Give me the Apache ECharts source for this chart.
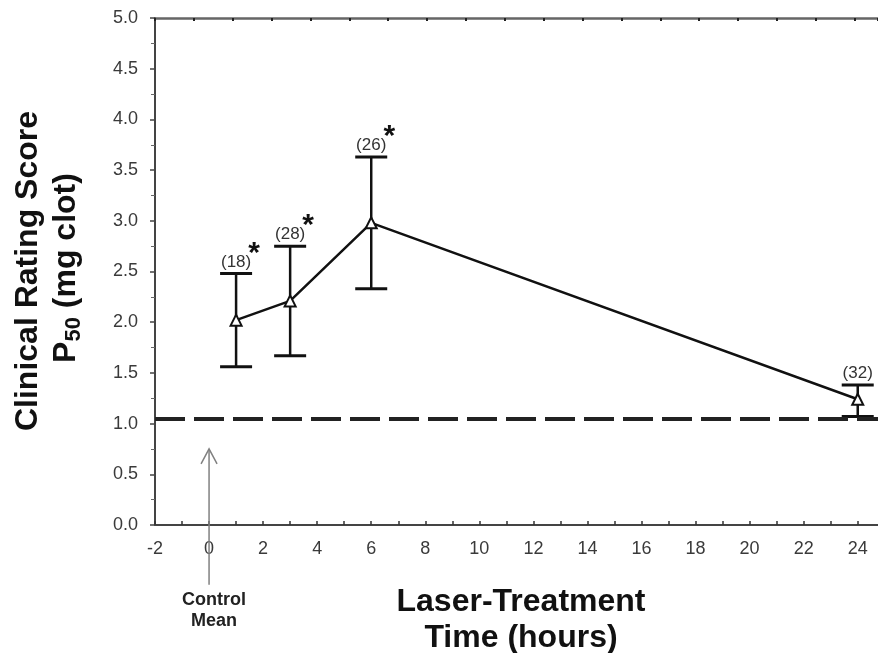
<!DOCTYPE html>
<html>
<head>
<meta charset="utf-8">
<script src="https://cdn.jsdelivr.net/npm/echarts@6/dist/echarts.min.js"></script>
<style>
  html, body { margin: 0; padding: 0; background: #fff; }
  #chart { width: 878px; height: 653px; }
</style>
</head>
<body>
<div id="chart"></div>
<script>
// values
const hours = [1, 3, 6, 24];
const means = [2.02, 2.21, 2.98, 1.24];
const upper = [2.48, 2.75, 3.63, 1.38];
const lower = [1.56, 1.67, 2.33, 1.07];
const counts = ["(18)", "(28)", "(26)", "(32)"];
const marked = [true, true, true, false];
const controlMean = 1.05;
// arrow under the control mean: x, tip, tail (tail runs below the axis)
const controlArrow = [0, 0.75, -0.59];
const xMin = -2, xMax = 24.75;
const yMin = 0, yMax = 5;

const FONT = "'Liberation Sans', Arial, Helvetica, sans-serif";
const ink = "#111";

const el = document.getElementById("chart");
const chart = echarts.init(el, null, { renderer: "canvas" });

// text width helper for the subscripted axis title
const ctx = document.createElement("canvas").getContext("2d");
function textW(str, font) {
  ctx.font = font;
  return ctx.measureText(str).width;
}

function yTitleLine2() {
  const big = "bold 32px " + FONT;
  const small = "bold 22px " + FONT;
  const parts = [
    { t: "P", font: big, dy: 0 },
    { t: "50", font: small, dy: 8 },
    { t: " (mg clot)", font: big, dy: 0 }
  ];
  const total = parts.reduce((s, p) => s + textW(p.t, p.font), 0);
  let cx = -total / 2;
  const children = parts.map(p => {
    const node = {
      type: "text",
      x: cx,
      y: p.dy,
      style: { text: p.t, font: p.font, fill: ink, textAlign: "left", textVerticalAlign: "middle" }
    };
    cx += textW(p.t, p.font);
    return node;
  });
  return { type: "group", id: "ytitle2", x: 66, y: 268, rotation: Math.PI / 2, children };
}

const option = {
  backgroundColor: "#fff",
  animation: false,
  grid: { left: 155, right: 0, top: 18, bottom: 128, containLabel: false },
  xAxis: [
    {
      type: "value",
      min: xMin,
      max: xMax,
      interval: 1,
      axisLine: { lineStyle: { color: "#444", width: 2 } },
      axisTick: { inside: true, length: 4, lineStyle: { color: "#333", width: 1.5 } },
      axisLabel: {
        margin: 15,
        fontSize: 18,
        fontFamily: FONT,
        color: "#3a3a3a",
        showMaxLabel: false,
        formatter: v => (Number.isInteger(v) && v % 2 === 0 ? String(v) : "")
      },
      splitLine: { show: false }
    },
    {
      type: "value",
      position: "top",
      min: 0,
      max: 18.6,
      interval: 1,
      axisLine: { onZero: false, lineStyle: { color: "#666", width: 2.5 } },
      axisTick: { inside: true, length: 3, lineStyle: { color: "#222", width: 2 } },
      axisLabel: { show: false },
      splitLine: { show: false }
    }
  ],
  yAxis: {
    type: "value",
    min: yMin,
    max: yMax,
    interval: 0.5,
    axisLine: { show: true, onZero: false, lineStyle: { color: "#444", width: 2 } },
    axisTick: { show: true, length: 5, lineStyle: { color: "#444", width: 1.5 } },
    minorTick: { show: true, splitNumber: 2, length: 4, lineStyle: { color: "#666", width: 1 } },
    axisLabel: {
      margin: 17,
      fontSize: 18,
      fontFamily: FONT,
      color: "#3a3a3a",
      formatter: v => v.toFixed(1)
    },
    splitLine: { show: false }
  },
  series: [
    {
      type: "custom",
      z: 2,
      data: hours.map((h, i) => [h, lower[i], upper[i], i]),
      encode: { x: 0, y: [1, 2] },
      renderItem(params, api) {
        const i = api.value(3);
        const x = api.value(0);
        const top = api.coord([x, api.value(2)]);
        const bot = api.coord([x, api.value(1)]);
        const half = 16;
        const style = { stroke: ink, lineWidth: 2.5 };
        const capStyle = { stroke: ink, lineWidth: 3 };
        const children = [
          { type: "line", shape: { x1: top[0], y1: top[1], x2: bot[0], y2: bot[1] }, style },
          { type: "line", shape: { x1: top[0] - half, y1: top[1], x2: top[0] + half, y2: top[1] }, style: capStyle },
          { type: "line", shape: { x1: bot[0] - half, y1: bot[1], x2: bot[0] + half, y2: bot[1] }, style: capStyle },
          {
            type: "text",
            x: top[0],
            y: top[1] - 3,
            style: { text: counts[i], font: "17px " + FONT, fill: "#333", textAlign: "center", textVerticalAlign: "bottom" }
          }
        ];
        if (marked[i]) {
          children.push({
            type: "text",
            x: top[0] + 18,
            y: top[1] - 20,
            style: { text: "*", font: "bold 30px " + FONT, fill: ink, textAlign: "center", textVerticalAlign: "middle" }
          });
        }
        return { type: "group", children };
      }
    },
    {
      type: "line",
      z: 3,
      data: hours.map((h, i) => [h, means[i]]),
      symbol: "triangle",
      symbolSize: 11,
      itemStyle: { color: "#fff", borderColor: ink, borderWidth: 2 },
      lineStyle: { color: ink, width: 2.5 },
      markLine: {
        silent: true,
        symbol: "none",
        label: { show: false },
        lineStyle: { color: "#222", width: 4, type: [30, 9] },
        data: [{ yAxis: controlMean }]
      }
    },
    {
      type: "custom",
      z: 10,
      clip: false,
      silent: true,
      data: [controlArrow],
      encode: { x: 0, y: [1, 2] },
      renderItem(params, api) {
        const tip = api.coord([api.value(0), api.value(1)]);
        const tail = api.coord([api.value(0), api.value(2)]);
        const st = { stroke: "#808080", lineWidth: 1.5, fill: null };
        return {
          type: "group",
          children: [
            { type: "line", shape: { x1: tip[0], y1: tip[1], x2: tail[0], y2: tail[1] }, style: st },
            {
              type: "polyline",
              shape: { points: [[tip[0] - 8, tip[1] + 15], [tip[0], tip[1]], [tip[0] + 8, tip[1] + 15]] },
              style: st
            }
          ]
        };
      }
    }
  ],
  graphic: [
    {
      type: "text",
      id: "ytitle1",
      x: 28,
      y: 271,
      rotation: Math.PI / 2,
      style: { text: "Clinical Rating Score", font: "bold 32px " + FONT, fill: ink, textAlign: "center", textVerticalAlign: "middle" }
    },
    yTitleLine2(),
    {
      type: "text",
      id: "xtitle",
      x: 521,
      y: 620,
      style: {
        text: "Laser-Treatment\nTime (hours)",
        font: "bold 32px " + FONT,
        lineHeight: 36,
        fill: ink,
        textAlign: "center",
        textVerticalAlign: "middle"
      }
    },
    {
      type: "text",
      id: "control",
      x: 214,
      y: 611,
      style: {
        text: "Control\nMean",
        font: "bold 18px " + FONT,
        lineHeight: 21,
        fill: "#222",
        textAlign: "center",
        textVerticalAlign: "middle"
      }
    }
  ]
};

chart.setOption(option);
</script>
</body>
</html>
